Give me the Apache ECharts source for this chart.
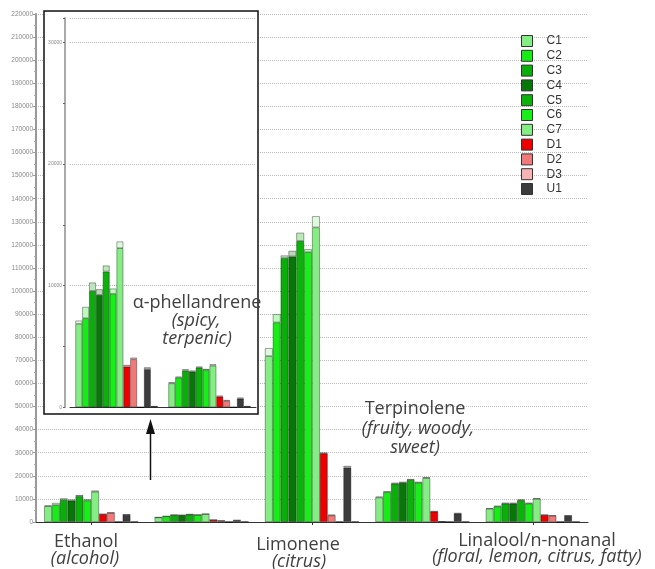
<!DOCTYPE html>
<html><head><meta charset="utf-8">
<script src="https://cdn.jsdelivr.net/npm/echarts@6/dist/echarts.min.js"></script>
<style>html,body{margin:0;padding:0;background:#fff}#c{width:655px;height:569px}</style>
</head><body><div id="c"></div>
<script>
// ---- data ----
const categories = ['Ethanol', 'α-phellandrene', 'Limonene', 'Terpinolene', 'Linalool/n-nonanal'];
const seriesNames = ['C1', 'C2', 'C3', 'C4', 'C5', 'C6', 'C7', 'D1', 'D2', 'D3', 'U1'];
// mean peak areas
const C1 = [6855, 1974, 71857, 10600, 5700];
const C2 = [7321, 2440, 86429, 12900, 6700];
const C3 = [9570, 3016, 114286, 16600, 8000];
const C4 = [9240, 2934, 115000, 17000, 8000];
const C5 = [11160, 3263, 121714, 18200, 9400];
const C6 = [9323, 3071, 116857, 17000, 8000];
const C7 = [13080, 3427, 127571, 19000, 10000];
const D1 = [3345, 877, 29714, 4500, 3000];
const D2 = [3949, 521, 2857, 150, 2700];
const D3 = [0, 0, 0, 0, 0];
const U1 = [3126, 713, 23571, 3650, 2700];
const U2 = [100, 100, 100, 100, 100];
// standard deviation caps
const C1_sd = [275, 82, 3429, 400, 300];
const C2_sd = [933, 83, 3571, 400, 300];
const C3_sd = [685, 110, 1142, 400, 300];
const C4_sd = [467, 82, 2428, 400, 300];
const C5_sd = [494, 82, 3572, 400, 300];
const C6_sd = [439, 82, 1286, 400, 300];
const C7_sd = [548, 110, 4857, 400, 300];
const D1_sd = [137, 83, 286, 200, 150];
const D2_sd = [137, 82, 286, 50, 150];
const D3_sd = [0, 0, 0, 0, 0];
const U1_sd = [164, 82, 715, 200, 150];
const insetCount = 2; // inset shows the first two compounds

const means = {C1, C2, C3, C4, C5, C6, C7, D1, D2, D3, U1};
const sds = {C1: C1_sd, C2: C2_sd, C3: C3_sd, C4: C4_sd, C5: C5_sd, C6: C6_sd, C7: C7_sd, D1: D1_sd, D2: D2_sd, D3: D3_sd, U1: U1_sd};

// ---- styles ----
const colors = {C1:'#84ee84', C2:'#16ec16', C3:'#0aae0a', C4:'#077707', C5:'#0ab20a', C6:'#18ee18', C7:'#84ee84',
  D1:'#ee0000', D2:'#f07a7a', D3:'#f7b4b4', U1:'#3c3c3c'};
function tint(hex, t) {
  const n = parseInt(hex.slice(1), 16);
  const r = (n >> 16) & 255, g = (n >> 8) & 255, b = n & 255;
  const f = v => Math.round(v + (255 - v) * t);
  return 'rgb(' + f(r) + ',' + f(g) + ',' + f(b) + ')';
}
const border = {borderColor: 'rgba(0,0,0,0.5)', borderWidth: 0.7};

const series = [];
function addSet(prefix, xi, yi, slice, gap, z) {
  seriesNames.forEach(name => {
    series.push({name: name, type: 'bar', xAxisIndex: xi, yAxisIndex: yi, stack: prefix + name,
      data: slice(means[name]), barGap: '0%', barCategoryGap: gap, z: z,
      itemStyle: Object.assign({color: colors[name]}, border)});
    series.push({name: name + ' sd', type: 'bar', xAxisIndex: xi, yAxisIndex: yi, stack: prefix + name,
      data: slice(sds[name]), barGap: '0%', barCategoryGap: gap, z: z,
      itemStyle: Object.assign({color: tint(colors[name], 0.72)}, border)});
  });
  series.push({name: 'U2', type: 'bar', xAxisIndex: xi, yAxisIndex: yi, stack: prefix + 'U2',
    data: slice(U2), barGap: '0%', barCategoryGap: gap, z: z,
    itemStyle: {color: '#222', borderColor: '#222', borderWidth: 0.6}});
}
addSet('m', 0, 0, a => a.slice(), '14.7%', 2);
addSet('i', 1, 1, a => a.slice(0, insetCount), '11.5%', 7);

const txtColor = '#404040';
function label(x, y, text, italic) {
  return {type: 'text', x: x, y: y, z: 20,
    style: {text: text, fill: txtColor, font: (italic ? 'italic ' : '') + '18px "Open Sans"',
      align: 'center', verticalAlign: 'middle'}};
}
const plain = v => String(v);

const chart = echarts.init(document.getElementById('c'));
chart.setOption({
  animation: false,
  backgroundColor: '#fff',
  grid: [
    {left: 36, right: 67, top: 14, bottom: 47},
    {left: 70, width: 186, top: 18, bottom: 161.7}
  ],
  xAxis: [
    {type: 'category', gridIndex: 0, data: categories, z: 1,
      axisLine: {lineStyle: {color: '#333', width: 1}},
      axisTick: {show: true, alignWithLabel: true, length: 3, lineStyle: {color: '#333'}},
      axisLabel: {show: false}},
    {type: 'category', gridIndex: 1, data: categories.slice(0, insetCount), z: 6,
      axisLine: {lineStyle: {color: '#333', width: 1}},
      axisTick: {show: false}, axisLabel: {show: false}}
  ],
  yAxis: [
    {type: 'value', gridIndex: 0, min: 0, max: 220000, interval: 10000, z: 1,
      axisLine: {show: true, lineStyle: {color: '#999', width: 2}},
      axisTick: {show: true, length: 3, lineStyle: {color: '#999'}},
      minorTick: {show: true, splitNumber: 2, length: 2, lineStyle: {color: '#aaa'}},
      axisLabel: {fontSize: 6.5, color: '#888', margin: 3, fontFamily: 'Liberation Sans', formatter: plain},
      splitLine: {lineStyle: {color: '#bbb', type: 'dotted', width: 1}}},
    {type: 'value', gridIndex: 1, min: 0, max: 32000, interval: 10000, offset: 5, z: 6,
      axisLine: {show: true, lineStyle: {color: '#aaa', width: 2}},
      axisTick: {show: true, length: 2, lineStyle: {color: '#666'}},
      minorTick: {show: true, splitNumber: 2, length: 2, lineStyle: {color: '#666'}},
      axisLabel: {fontSize: 5, color: '#888', margin: 3, showMaxLabel: false, fontFamily: 'Liberation Sans', formatter: plain},
      splitLine: {lineStyle: {color: '#bbb', type: 'dotted', width: 1}}}
  ],
  legend: {
    orient: 'vertical', left: 521, top: 35, data: seriesNames, icon: 'rect',
    itemWidth: 11, itemHeight: 11, itemGap: 2.8, padding: 0,
    itemStyle: {borderColor: '#333', borderWidth: 1},
    textStyle: {fontSize: 12, color: '#333', fontFamily: 'Liberation Sans', padding: [0, 0, 0, 9], lineHeight: 11}
  },
  graphic: [
    {type: 'rect', z: 5, shape: {x: 44, y: 11, width: 214, height: 403},
      style: {fill: '#fff', stroke: '#111', lineWidth: 1.5}},
    {type: 'line', z: 20, shape: {x1: 150.5, y1: 480, x2: 150.5, y2: 430}, style: {stroke: '#111', lineWidth: 1.5}},
    {type: 'polygon', z: 20, shape: {points: [[146, 434], [155, 434], [150.5, 419]]}, style: {fill: '#111'}},
    label(86, 541.5, 'Ethanol', false),
    label(85, 558.5, '(alcohol)', true),
    label(197, 302.5, 'α-phellandrene', false),
    label(196, 320.5, '(spicy,', true),
    label(197, 338.5, 'terpenic)', true),
    label(298, 545, 'Limonene', false),
    label(299, 561.5, '(citrus)', true),
    label(415, 409, 'Terpinolene', false),
    label(418, 428.5, '(fruity, woody,', true),
    label(415, 447.5, 'sweet)', true),
    label(537, 540.5, 'Linalool/n-nonanal', false),
    label(537, 556.5, '(floral, lemon, citrus, fatty)', true)
  ],
  series: series
});
</script></body></html>
